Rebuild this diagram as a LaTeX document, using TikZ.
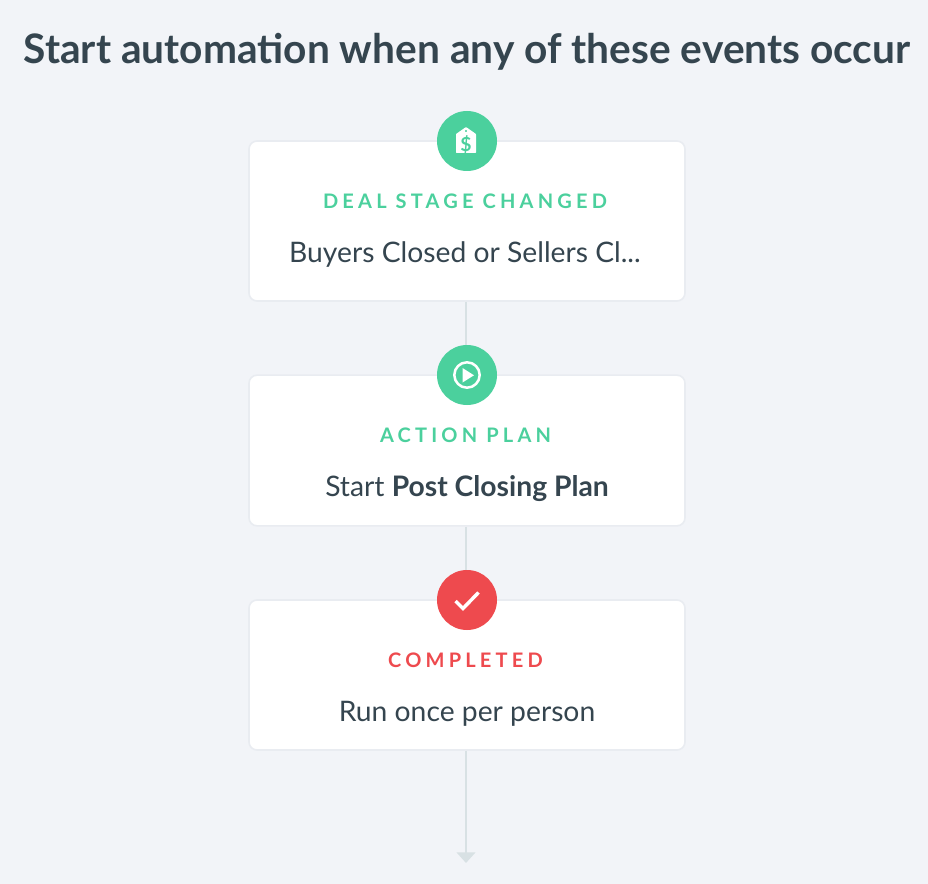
\documentclass[tikz,border=0pt]{standalone}
\usepackage{fontspec}
\setmainfont{Lato}
\usetikzlibrary{arrows.meta}
\definecolor{pagebg}{HTML}{F2F4F8}
\definecolor{inktext}{HTML}{35454F}
\definecolor{dealgreen}{HTML}{4BD09D}
\definecolor{donered}{HTML}{EE4A4E}
\definecolor{linegray}{HTML}{D8E1E4}
\definecolor{cardedge}{HTML}{E9ECF1}
\tikzset{
	card/.style={draw=cardedge, line width=1.2pt, fill=white, rounded corners=6pt, minimum width=327pt, inner sep=0pt},
	badge/.style={circle, minimum size=45pt, inner sep=0pt, fill=#1},
	kicker/.style={font=\fontsize{15pt}{18pt}\selectfont\bfseries\addfontfeature{LetterSpace=21}, text=#1},
	detail/.style={font=\fontsize{21.2pt}{25pt}\selectfont, text=inktext},
	wire/.style={draw=linegray, line width=1.5pt}
}
\begin{document}
\begin{tikzpicture}[x=0.75pt,y=-0.75pt]
	\useasboundingbox[fill=pagebg] (0,0) rectangle (928,884);
	\node (title) at (467,52) [font=\fontsize{30.5pt}{34pt}\selectfont\bfseries, text=inktext] {Start automation when any of these events occur};
	
	\node[card, minimum height=120pt] (deal) at (467,221) {};
	\node[card, minimum height=113pt] (plan) at (467,450.5) {};
	\node[card, minimum height=112.5pt] (done) at (467,675) {};
	\coordinate (end) at (466,863);
	
	\draw[wire] ([xshift=-0.75pt]deal.south) -- ([xshift=-0.75pt]plan.north);
	\draw[wire] ([xshift=-0.75pt]plan.south) -- ([xshift=-0.75pt]done.north);
	\draw[wire, -{Triangle[length=8pt,width=14pt]}] ([xshift=-0.75pt]done.south) -- (end);
	
	\node[badge=dealgreen] (dealbadge) at (467,141) {};
	\node[badge=dealgreen] (planbadge) at (467,375) {};
	\node[badge=donered] (donebadge) at (467,600) {};
	
	% icons
	\fill[white, even odd rule, rounded corners=0.5pt] (466,127) -- (476,134) -- (476,153) -- (456,153) -- (456,134) -- cycle (466,131) circle (1.3);
	\node (dollar) at (466,144.5) [font=\fontsize{14.5pt}{15pt}\selectfont\bfseries, text=dealgreen, inner sep=0pt] {\$};
	\draw[white, line width=1.9pt] (467,375) circle (12.7);
	\fill[white] (462.5,368) -- (474,375.3) -- (462.5,382.5) -- cycle;
	\draw[white, line width=2.6pt] (455.5,601) -- (463,608.5) -- (478.5,592.5);
	
	\node[kicker=dealgreen] (dealkicker) at (465,201) {DEAL STAGE CHANGED};
	\node[detail] (dealtext) at (465,255) {Buyers Closed or Sellers Cl...};
	\node[kicker=dealgreen] (plankicker) at (465.5,435) {ACTION PLAN};
	\node[detail] (plantext) at (467,489) {Start \textbf{Post Closing Plan}};
	\node[kicker=donered] (donekicker) at (465.5,660) {COMPLETED};
	\node[detail] (donetext) at (467,714) {Run once per person};
\end{tikzpicture}
\end{document}
